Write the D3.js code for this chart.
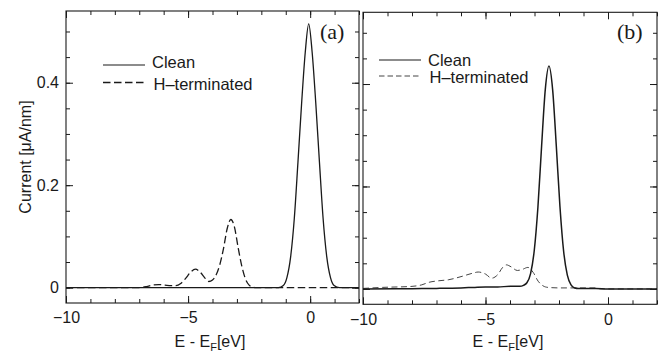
<!DOCTYPE html>
<html><head><meta charset="utf-8">
<script src="https://cdn.jsdelivr.net/npm/d3@7"></script>
<style>body{margin:0;background:#fff}svg{display:block}</style>
</head><body>
<svg id="c" width="672" height="354"></svg>
<script>
// ---- data ----
const xMajorTicks = [-10, -5, 0];
const xMinorTicks = [-10, -9, -8, -7, -6, -5, -4, -3, -2, -1, 0, 1, 2];
const yMajorTicks = [0, 0.2, 0.4];
const yMinorTicks = [0, 0.05, 0.1, 0.15, 0.2, 0.25, 0.3, 0.35, 0.4, 0.45, 0.5];
const seriesNames = ["Clean", "H\u2013terminated"];
const panelLabels = ["(a)", "(b)"];

// Panel (a) clean
const cleanA_E = [-10, -1.3, -1.1, -0.95, -0.8, -0.65, -0.5, -0.35, -0.2, -0.06, 0.08, 0.23, 0.38, 0.53, 0.68, 0.83, 0.98, 1.2, 2];
const cleanA_I = [0, 0, 0.004, 0.02, 0.06, 0.135, 0.245, 0.36, 0.46, 0.515, 0.46, 0.36, 0.245, 0.135, 0.06, 0.02, 0.004, 0, 0];
// Panel (a) H-terminated
const hterA_E = [-10, -7.0, -6.7, -6.45, -6.2, -5.95, -5.7, -5.5, -5.3, -5.1, -4.9, -4.7, -4.5, -4.3, -4.15, -4.0, -3.85, -3.7, -3.55, -3.4, -3.25, -3.1, -2.95, -2.8, -2.65, -2.5, -2.35, -2.2, 2];
const hterA_I = [0, 0, 0.002, 0.005, 0.006, 0.005, 0.004, 0.004, 0.008, 0.018, 0.030, 0.036, 0.030, 0.018, 0.012, 0.015, 0.025, 0.045, 0.076, 0.115, 0.133, 0.118, 0.078, 0.042, 0.017, 0.005, 0.001, 0, 0];
// Panel (b) clean
const cleanB_E = [-10, -8, -7, -6, -5.5, -5, -4.5, -4, -3.6, -3.45, -3.31, -3.16, -3.01, -2.86, -2.71, -2.56, -2.41, -2.26, -2.11, -1.96, -1.81, -1.66, -1.51, -1.36, -1.2, -0.5, 0, 2];
const cleanB_I = [0, 0.0005, 0.001, 0.002, 0.003, 0.004, 0.004, 0.005, 0.005, 0.007, 0.012, 0.030, 0.075, 0.160, 0.279, 0.389, 0.435, 0.389, 0.279, 0.160, 0.073, 0.027, 0.008, 0.002, 0.001, 0.001, 0, 0];
// Panel (b) H-terminated
const hterB_E = [-10, -9.2, -8.0, -7.6, -7.3, -6.9, -6.5, -6.0, -5.5, -5.3, -5.0, -4.75, -4.5, -4.3, -4.15, -3.95, -3.7, -3.5, -3.27, -3.05, -2.85, -2.65, -2.45, -2.0, -0.5, -0.3, 2];
const hterB_I = [0.001, 0.003, 0.005, 0.008, 0.013, 0.016, 0.018, 0.024, 0.031, 0.033, 0.029, 0.021, 0.028, 0.042, 0.047, 0.043, 0.036, 0.038, 0.042, 0.032, 0.015, 0.006, 0.003, 0.002, 0.002, 0, 0];

// ---- drawing ----
const svg = d3.select("#c");
const SANS = "'Liberation Sans', Arial, sans-serif";
const SERIF = "'Liberation Serif', 'Times New Roman', serif";
const INK = "#1a1a1a";

const panels = [
  {x0: 66, x1: 359, y0: 11, y1: 303, clean: [cleanA_E, cleanA_I], hter: [hterA_E, hterA_I],
   yLabels: true, label: panelLabels[0], labelX: 320, labelY: 39,
   legX: 103, legY1: 65, legY2: 82.5, legT1: 68, legT2: 89.5, legText: 152,
   dash: "7.5,3.5", legDash: "7.5,3.5", hWidth: 1.3, hColor: INK, cWidth: 1.3, xTitle: 210},
  {x0: 363, x1: 657, y0: 12.3, y1: 304.3, clean: [cleanB_E, cleanB_I], hter: [hterB_E, hterB_I],
   yLabels: false, label: panelLabels[1], labelX: 617, labelY: 39,
   legX: 379, legY1: 60, legY2: 76, legT1: 66, legT2: 82.5, legText: 428,
   dash: "6,3.5", legDash: "5.5,3", hWidth: 1.0, hColor: "#444", cWidth: 1.5, xTitle: 508}
];

panels.forEach(p => {
  const x = d3.scaleLinear().domain([-10, 2]).range([p.x0, p.x1]);
  const y = d3.scaleLinear().domain([-0.03, 0.54]).range([p.y1, p.y0]);
  const g = svg.append("g");

  const line = d3.line().x(d => x(d[0])).y(d => y(d[1])).curve(d3.curveMonotoneX);
  const toPts = (arr) => arr[0].map((e, i) => [e, arr[1][i]]);

  // curves
  g.append("path").datum(toPts(p.hter)).attr("d", line)
    .attr("fill", "none").attr("stroke", p.hColor).attr("stroke-width", p.hWidth)
    .attr("stroke-dasharray", p.dash);
  g.append("path").datum(toPts(p.clean)).attr("d", line)
    .attr("fill", "none").attr("stroke", INK).attr("stroke-width", p.cWidth);

  // axes (inward ticks)
  const styleAxis = sel => {
    sel.select(".domain").remove();
    sel.selectAll(".tick line").attr("stroke", INK).attr("stroke-width", 1);
    sel.selectAll("text").attr("font-family", SANS).attr("font-size", 16).attr("fill", INK);
  };
  const fmtX = d3.format("d");
  const fmtY = d => d === 0 ? "0" : d3.format(".1f")(d);

  g.append("g").attr("transform", `translate(0,${p.y1})`)
    .call(d3.axisBottom(x).tickValues(xMinorTicks).tickSize(-4).tickFormat("")).call(styleAxis);
  g.append("g").attr("transform", `translate(0,${p.y1})`)
    .call(d3.axisBottom(x).tickValues(xMajorTicks).tickSize(-7).tickPadding(9).tickFormat(fmtX)).call(styleAxis);
  g.append("g").attr("transform", `translate(0,${p.y0})`)
    .call(d3.axisTop(x).tickValues(xMinorTicks).tickSize(-4).tickFormat("")).call(styleAxis);
  g.append("g").attr("transform", `translate(0,${p.y0})`)
    .call(d3.axisTop(x).tickValues(xMajorTicks).tickSize(-7).tickFormat("")).call(styleAxis);

  g.append("g").attr("transform", `translate(${p.x0},0)`)
    .call(d3.axisLeft(y).tickValues(yMinorTicks).tickSize(-4).tickFormat("")).call(styleAxis);
  g.append("g").attr("transform", `translate(${p.x0},0)`)
    .call(d3.axisLeft(y).tickValues(yMajorTicks).tickSize(-7).tickPadding(7)
      .tickFormat(p.yLabels ? fmtY : "")).call(styleAxis);
  g.append("g").attr("transform", `translate(${p.x1},0)`)
    .call(d3.axisRight(y).tickValues(yMinorTicks).tickSize(-4).tickFormat("")).call(styleAxis);
  g.append("g").attr("transform", `translate(${p.x1},0)`)
    .call(d3.axisRight(y).tickValues(yMajorTicks).tickSize(-7).tickFormat("")).call(styleAxis);

  // frame
  g.append("rect").attr("x", p.x0).attr("y", p.y0)
    .attr("width", p.x1 - p.x0).attr("height", p.y1 - p.y0)
    .attr("fill", "none").attr("stroke", INK).attr("stroke-width", 1.1);

  // panel label
  g.append("text").attr("x", p.labelX).attr("y", p.labelY)
    .attr("font-family", SERIF).attr("font-size", 22).attr("fill", INK).text(p.label);

  // legend
  g.append("line").attr("x1", p.legX).attr("x2", p.legX + 42)
    .attr("y1", p.legY1).attr("y2", p.legY1).attr("stroke", INK).attr("stroke-width", 1.2);
  g.append("line").attr("x1", p.legX).attr("x2", p.legX + 42)
    .attr("y1", p.legY2).attr("y2", p.legY2).attr("stroke", p.hColor)
    .attr("stroke-width", p.hWidth).attr("stroke-dasharray", p.legDash);
  g.append("text").attr("x", p.legText).attr("y", p.legT1)
    .attr("font-family", SANS).attr("font-size", 16.5).attr("fill", INK).text(seriesNames[0]);
  g.append("text").attr("x", p.legText + 1.5).attr("y", p.legT2)
    .attr("font-family", SANS).attr("font-size", 16.5).attr("fill", INK).text(seriesNames[1]);

  // x title
  const t = g.append("text").attr("x", p.xTitle).attr("y", 347)
    .attr("text-anchor", "middle").attr("font-family", SANS).attr("font-size", 16).attr("fill", INK);
  t.append("tspan").text("E - E");
  t.append("tspan").attr("font-size", 11).attr("dy", 4).text("F");
  t.append("tspan").attr("dy", -4).text("[eV]");
});

// y title
svg.append("text").attr("transform", "translate(31,157) rotate(-90)")
  .attr("text-anchor", "middle").attr("font-family", SANS).attr("font-size", 16).attr("fill", INK)
  .text("Current [\u03BCA/nm]");
</script>
</body></html>
